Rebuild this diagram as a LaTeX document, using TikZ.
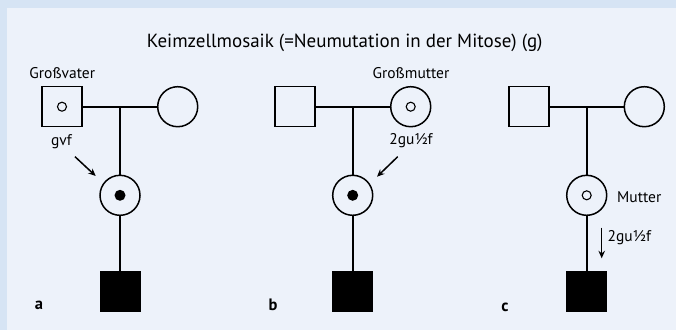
\documentclass[tikz,border=0pt]{standalone}
\usepackage{fontspec}
\setmainfont{PT Sans}
\usetikzlibrary{arrows.meta}
\definecolor{outerbg}{HTML}{D6E4F4}
\definecolor{innerbg}{HTML}{EDF2FA}
\begin{document}
\begin{tikzpicture}[x=1pt,y=-1pt,
 male/.style={draw, line width=1.5pt, rectangle, minimum size=40pt, inner sep=0pt},
 female/.style={draw, line width=1.5pt, circle, minimum size=40pt, inner sep=0pt},
 affm/.style={fill=black, rectangle, minimum size=41pt, inner sep=0pt},
 odot/.style={circle, draw, line width=1.1pt, minimum size=9pt, inner sep=0pt},
 fdot/.style={circle, fill=black, minimum size=11pt, inner sep=0pt},
 conn/.style={line width=1.6pt},
 ann/.style={line width=1.5pt, -{Stealth[length=7.5pt,width=6.5pt]}},
 lbl/.style={font=\fontsize{15.5}{18}\selectfont, inner sep=0pt},
 title/.style={font=\fontsize{19}{22}\selectfont, inner sep=0pt},
 panellbl/.style={font=\bfseries\fontsize{16.5}{18}\selectfont, inner sep=0pt}]
\useasboundingbox (0,0) rectangle (676,330);
\fill[outerbg] (0,0) rectangle (676,330);
\fill[innerbg] (7,8) rectangle (676,330);

\node[title] (title) at (344.7,43) {Keimzellmosaik (=Neumutation in der Mitose) (g)};

% panel a
\node[male] (fa) at (62,106.7) {};
\node[odot] (fadot) at (fa) {};
\node[female] (ma) at (177.7,106.7) {};
\coordinate (ja) at (120,106.7);
\node[female] (da) at (120,195.3) {};
\node[fdot] (dadot) at (da) {};
\node[affm] (sa) at (120,291.5) {};
\draw[conn] (fa.east) -- (ma.west);
\draw[conn] (ja) -- (da.north);
\draw[conn] (da.south) -- (sa.north);
\node[lbl] (gva) at (62.3,73) {Großvater};
\node[lbl] (gvf) at (61.5,142) {gvf};
\coordinate (aras) at (75,156.7);
\coordinate (arae) at (95.7,176);
\draw[ann] (aras) -- (arae);
\node[panellbl] (la) at (39,305) {a};

% panel b
\node[male] (fb) at (295,106.7) {};
\node[female] (mb) at (410.7,106.7) {};
\node[odot] (mbdot) at (mb) {};
\coordinate (jb) at (352.7,106.7);
\node[female] (db) at (352.7,195.3) {};
\node[fdot] (dbdot) at (db) {};
\node[affm] (sb) at (352.7,291.5) {};
\draw[conn] (fb.east) -- (mb.west);
\draw[conn] (jb) -- (db.north);
\draw[conn] (db.south) -- (sb.north);
\node[lbl] (gmb) at (411,73) {Großmutter};
\node[lbl] (gub) at (411,141) {2gu½f};
\coordinate (arbs) at (397.7,156.7);
\coordinate (arbe) at (377,176.7);
\draw[ann] (arbs) -- (arbe);
\node[panellbl] (lb) at (273,305) {b};

% panel c
\node[male] (fc) at (528.8,106.7) {};
\node[female] (mc) at (644.3,106.7) {};
\coordinate (jc) at (586.7,106.7);
\node[female] (dc) at (586.7,195.3) {};
\node[odot] (dcdot) at (dc) {};
\node[affm] (sc) at (586.7,291.5) {};
\draw[conn] (fc.east) -- (mc.west);
\draw[conn] (jc) -- (dc.north);
\draw[conn] (dc.south) -- (sc.north);
\node[lbl, anchor=west] (mutc) at (617,197) {Mutter};
\node[lbl, anchor=west] (guc) at (607.5,238) {2gu½f};
\coordinate (arcs) at (601.7,227.7);
\coordinate (arce) at (601.7,258.3);
\draw[ann] (arcs) -- (arce);
\node[panellbl] (lc) at (505,307) {c};
\end{tikzpicture}
\end{document}
